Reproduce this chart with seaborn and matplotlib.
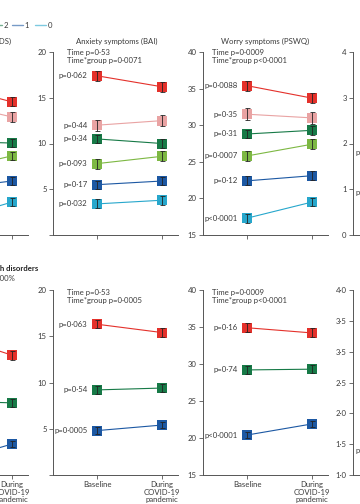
import numpy as np
import pandas as pd
import matplotlib
matplotlib.use("Agg")
import matplotlib.pyplot as plt
import seaborn as sns

# ---- data ----
times = ["Baseline", "During\nCOVID-19\npandemic"]
groups_top = ["g5", "g4", "g3", "g2", "g1", "g0"]
colors_top = ["#e4312b", "#e9a3a3", "#177a47", "#7db843", "#1c58a3", "#27a7cc"]

ids_top_base = [32.8, 29.1, 20.5, 14.0, 10.1, 3.0]
ids_top_dur = [29.1, 25.8, 20.1, 17.3, 11.8, 7.2]
ids_top_err = [1.0, 1.0, 0.9, 0.9, 0.8, 0.8]

bai_top_base = [17.4, 12.0, 10.5, 7.8, 5.5, 3.4]
bai_top_dur = [16.2, 12.5, 10.0, 8.6, 5.9, 3.8]
bai_top_err = [0.55, 0.6, 0.45, 0.55, 0.45, 0.5]
bai_top_p = ["p=0·062", "p=0·44", "p=0·34", "p=0·093", "p=0·17", "p=0·032"]

pswq_top_base = [35.4, 31.5, 28.8, 25.8, 22.4, 17.3]
pswq_top_dur = [33.7, 31.0, 29.3, 27.4, 23.1, 19.5]
pswq_top_err = [0.7, 0.8, 0.6, 0.7, 0.6, 0.6]
pswq_top_p = ["p=0·0088", "p=0·35", "p=0·31", "p=0·0007", "p=0·12", "p<0·0001"]

groups_bot = ["red", "green", "blue"]
colors_bot = ["#e4312b", "#177a47", "#1c58a3"]

ids_bot_base = [30.5, 16.0, 2.6]
ids_bot_dur = [25.9, 15.6, 6.7]
ids_bot_err = [1.0, 0.9, 0.6]

bai_bot_base = [16.3, 9.2, 4.8]
bai_bot_dur = [15.4, 9.4, 5.4]
bai_bot_err = [0.45, 0.45, 0.35]
bai_bot_p = ["p=0·063", "p=0·54", "p=0·0005"]

pswq_bot_base = [34.9, 29.2, 20.4]
pswq_bot_dur = [34.2, 29.3, 21.9]
pswq_bot_err = [0.6, 0.5, 0.4]
pswq_bot_p = ["p=0·16", "p=0·74", "p<0·0001"]

W, H = 360, 504
TXT = "#3a3a3a"
AX = "#555555"
FS = 5.6

sns.set_style("ticks")
plt.rcParams["font.family"] = ["Lato", "DejaVu Sans"]

fig = plt.figure(figsize=(W / 100, H / 100), dpi=100)


def fx(x):
    return x / W


def fy(y):
    return 1 - y / H


def make_axes(x0, ytop, ybot, ylim, yticks, yticklabels=None, xlabels=False):
    ax = fig.add_axes([fx(x0), fy(ybot), 125 / W, (ybot - ytop) / H])
    ax.set_xlim(-44 / 65, 81 / 65)
    ax.set_ylim(*ylim)
    ax.set_yticks(yticks)
    if yticklabels is None:
        yticklabels = [str(t) for t in yticks]
    ax.set_yticklabels(yticklabels)
    ax.set_xticks([0, 1])
    ax.set_xticklabels(times if xlabels else ["", ""])
    for s in ["top", "right"]:
        ax.spines[s].set_visible(False)
    for s in ["left", "bottom"]:
        ax.spines[s].set_color(AX)
        ax.spines[s].set_linewidth(0.7)
    ax.tick_params(colors=AX, labelcolor=TXT, labelsize=FS, width=0.6,
                   length=3, pad=1.5)
    ax.set_xlabel("")
    ax.set_ylabel("")
    ax.patch.set_alpha(0)
    return ax


def draw(ax, groups, colors, base, dur, err):
    df = pd.DataFrame({
        "group": np.repeat(groups, 2),
        "time": [0, 1] * len(groups),
        "score": np.ravel(np.column_stack([base, dur])),
    })
    sns.lineplot(data=df, x="time", y="score", hue="group", hue_order=groups,
                 palette=colors, marker="s", markersize=7,
                 markeredgewidth=0, linewidth=0.8, legend=False, ax=ax,
                 clip_on=False)
    for b, d, e in zip(base, dur, err):
        ax.errorbar([0, 1], [b, d], yerr=[e, e], fmt="none", ecolor="#222222",
                    elinewidth=0.6, capsize=1.8, capthick=0.6, zorder=5,
                    clip_on=False)
    ax.set_xlabel("")
    ax.set_ylabel("")
    ax.set_xlim(-44 / 65, 81 / 65)


def plabels(ax, labels, base, xr):
    for lab, b in zip(labels, base):
        ax.annotate(lab, xy=(0, b), xytext=(xr, 0), textcoords="offset points",
                    ha="right", va="center", fontsize=FS, color=TXT)


# ---- top row ----
# left panel lies almost fully outside the crop: its tick labels are not shown
a1 = make_axes(-97, 52, 235, (0, 40), [0, 10, 20, 30, 40], [""] * 5)
draw(a1, groups_top, colors_top, ids_top_base, ids_top_dur, ids_top_err)

a2 = make_axes(53, 52, 235, (0, 20), [0, 5, 10, 15, 20],
               ["", "5", "10", "15", "20"])
draw(a2, groups_top, colors_top, bai_top_base, bai_top_dur, bai_top_err)
plabels(a2, bai_top_p, bai_top_base, -7)

a3 = make_axes(203, 52, 235, (15, 40), [15, 20, 25, 30, 35, 40])
draw(a3, groups_top, colors_top, pswq_top_base, pswq_top_dur, pswq_top_err)
plabels(a3, pswq_top_p, pswq_top_base, -7)

a4 = make_axes(353, 52, 235, (0, 4), [0, 1, 2, 3, 4])

# ---- bottom row ----
b1 = make_axes(-97, 290, 475, (0, 40), [0, 10, 20, 30, 40], [""] * 5,
               xlabels=True)
b1.set_xticklabels(["", times[1]])
draw(b1, groups_bot, colors_bot, ids_bot_base, ids_bot_dur, ids_bot_err)

b2 = make_axes(53, 290, 475, (0, 20), [0, 5, 10, 15, 20],
               ["", "5", "10", "15", "20"], xlabels=True)
draw(b2, groups_bot, colors_bot, bai_bot_base, bai_bot_dur, bai_bot_err)
plabels(b2, bai_bot_p, bai_bot_base, -7)

b3 = make_axes(203, 290, 475, (15, 40), [15, 20, 25, 30, 35, 40], xlabels=True)
draw(b3, groups_bot, colors_bot, pswq_bot_base, pswq_bot_dur, pswq_bot_err)
plabels(b3, pswq_bot_p, pswq_bot_base, -7)

b4 = make_axes(353, 290, 475, (1, 4), [1, 1.5, 2, 2.5, 3, 3.5, 4],
               ["1·0", "1·5", "2·0", "2·5", "3·5", "3·5", "4·0"])

for ax in [b1, b2, b3]:
    for lab in ax.get_xticklabels():
        lab.set_linespacing(1.1)

# ---- titles and annotations ----
fig.text(fx(-35), fy(41), "Depressive symptoms (IDS)", ha="center", va="center",
         fontsize=FS, color=TXT)
fig.text(fx(117), fy(41), "Anxiety symptoms (BAI)", ha="center", va="center",
         fontsize=FS, color=TXT)
fig.text(fx(265), fy(41), "Worry symptoms (PSWQ)", ha="center", va="center",
         fontsize=FS, color=TXT)

for x0, t2 in [(67, "Time*group p=0·0071"), (212, "Time*group p<0·0001")]:
    t1 = "Time p=0·53" if x0 == 67 else "Time p=0·0009"
    fig.text(fx(x0), fy(52), t1, ha="left", va="center", fontsize=FS, color=TXT)
    fig.text(fx(x0), fy(61), t2, ha="left", va="center", fontsize=FS, color=TXT)
for x0, t2 in [(67, "Time*group p=0·0005"), (212, "Time*group p<0·0001")]:
    t1 = "Time p=0·53" if x0 == 67 else "Time p=0·0009"
    fig.text(fx(x0), fy(292), t1, ha="left", va="center", fontsize=FS, color=TXT)
    fig.text(fx(x0), fy(300), t2, ha="left", va="center", fontsize=FS, color=TXT)

# partial labels of the cut-off right panels
for y in [153, 193]:
    fig.text(fx(356), fy(y), "p=0·21", ha="left", va="center", fontsize=FS, color=TXT)
fig.text(fx(356), fy(451), "p=0·001", ha="left", va="center", fontsize=FS, color=TXT)

# legend strip at top
fig.text(fx(6), fy(25), "2", ha="center", va="center", fontsize=FS, color=TXT)
fig.text(fx(27), fy(25), "1", ha="center", va="center", fontsize=FS, color=TXT)
fig.text(fx(50), fy(25), "0", ha="center", va="center", fontsize=FS, color=TXT)
for (xa, xb), c in zip([(-10, 2), (12, 23), (35, 46)], ["#177a47", "#1c58a3", "#27a7cc"]):
    fig.add_artist(plt.Line2D([fx(xa), fx(xb)], [fy(25), fy(25)], color=c,
                              lw=1.0, alpha=0.6, transform=fig.transFigure))

# bottom row heading
fig.text(fx(38), fy(269), "People with disorders", ha="right", va="center",
         fontsize=FS, color="#222222", fontweight="bold")
fig.text(fx(15), fy(278), "Chronicity 100%", ha="right", va="center",
         fontsize=FS, color=TXT)

fig.savefig("out.png", dpi=100)
